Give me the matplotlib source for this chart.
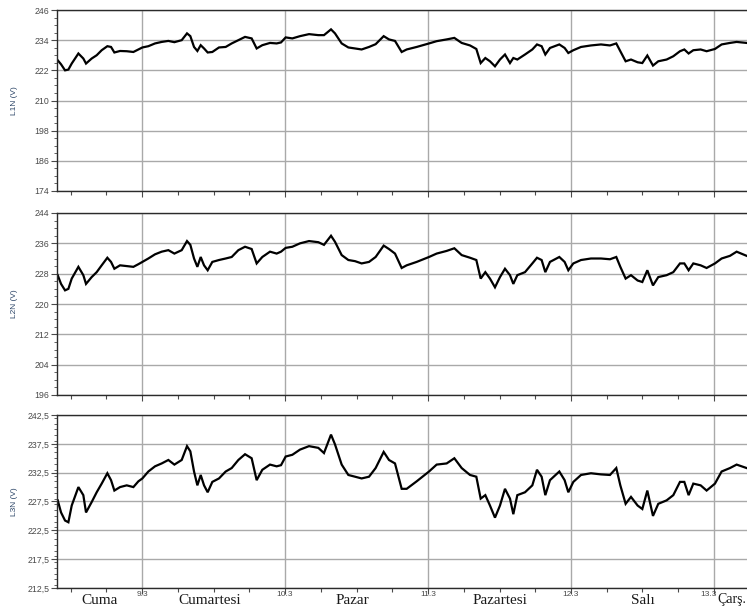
import matplotlib
matplotlib.use("Agg")
import matplotlib.pyplot as plt
import matplotlib.transforms as mtransforms
from matplotlib.ticker import FixedLocator, MultipleLocator, FuncFormatter, NullFormatter

# Sample times, hours counted from 00:00 on 8.3
hours_a = [9.85, 10.41, 11.08, 11.64, 12.20, 13.32, 14.15, 14.60, 15.55, 16.39,
           17.23, 18.18, 18.80, 19.36, 20.31, 21.43, 22.55, 23.39, 24.06, 25.06,
           26.18, 27.30, 28.42, 29.43, 30.66, 31.55, 32.11, 32.73, 33.29, 33.85,
           34.41, 35.02, 35.80, 36.92, 38.04, 39.05, 40.17, 41.29, 42.40, 43.24,
           44.19, 45.48, 46.60, 47.33, 48.11, 49.23, 50.52, 52.03, 53.59, 54.54,
           55.72, 56.39, 57.51, 58.63, 59.75, 60.86, 62.10, 63.21, 64.56, 65.45,
           66.46, 67.58]
hours_b = [68.42, 70.10, 72.17, 73.45, 75.13, 76.42, 77.65, 79.05, 80.11, 80.84,
           81.62, 82.40, 83.24, 84.08, 84.92, 85.76, 86.32, 86.99, 88.28, 89.51,
           90.29, 91.07, 91.69, 92.47, 94.04, 94.93, 95.55, 96.39, 97.68, 99.35,
           101.03, 102.54, 103.60, 104.28, 105.17, 106.07, 107.18, 107.97, 108.81, 109.76,
           110.65, 112.05, 113.17, 114.29, 115.02, 115.74, 116.53, 117.76, 118.76, 120.16,
           121.28, 122.68, 123.80, 125.48]
hours = hours_a + hours_b

# Phase-to-neutral voltages (V)
l1n = [226.0, 224.4, 222.0, 222.3, 224.7, 228.7, 226.7, 224.7, 226.7, 228.0,
       230.0, 231.6, 231.3, 229.1, 229.7, 229.6, 229.3, 230.3, 231.1, 231.6,
       232.7, 233.3, 233.7, 233.2, 234.0, 236.7, 235.6, 231.3, 229.7, 232.0,
       230.7, 229.1, 229.3, 231.1, 231.3, 232.7, 234.0, 235.3, 234.7, 230.7,
       232.0, 232.9, 232.7, 233.1, 235.1, 234.7, 235.6, 236.4, 236.0, 236.0,
       238.3, 236.7, 232.7, 231.1, 230.7, 230.3, 231.3, 232.4, 235.6, 234.3,
       233.7, 229.3,
       230.3, 231.3, 232.7, 233.6, 234.3, 234.9, 232.9, 231.9, 230.5, 224.9,
       226.9, 225.6, 223.6, 226.3, 228.3, 224.9, 226.9, 226.3, 228.3, 230.3,
       232.3, 231.6, 228.3, 230.9, 232.3, 230.9, 228.9, 230.0, 231.3, 231.9,
       232.3, 231.9, 232.7, 229.6, 225.6, 226.3, 225.2, 224.9, 227.9, 223.9,
       225.6, 226.3, 227.6, 229.6, 230.3, 228.7, 230.0, 230.3, 229.6, 230.5,
       232.3, 232.9, 233.3, 232.9]
l2n = [227.6, 225.3, 223.6, 224.0, 226.7, 229.8, 227.6, 225.3, 227.1, 228.4,
       230.2, 232.2, 231.1, 229.3, 230.2, 230.0, 229.8, 230.5, 231.1, 232.0,
       233.1, 233.8, 234.2, 233.3, 234.2, 236.6, 235.6, 232.0, 229.8, 232.4,
       230.2, 228.9, 231.1, 231.6, 232.0, 232.4, 234.2, 235.1, 234.5, 230.7,
       232.4, 233.8, 233.3, 233.8, 234.8, 235.1, 236.0, 236.6, 236.3, 235.6,
       238.0, 236.4, 232.9, 231.6, 231.3, 230.7, 231.1, 232.4, 235.4, 234.5,
       233.3, 229.5,
       230.2, 231.1, 232.4, 233.3, 234.0, 234.7, 232.9, 232.2, 231.6, 226.7,
       228.4, 226.7, 224.4, 227.1, 229.3, 227.6, 225.3, 227.6, 228.4, 230.7,
       232.2, 231.6, 228.4, 231.1, 232.4, 231.1, 228.9, 230.7, 231.6, 232.0,
       232.0, 231.8, 232.4, 229.8, 226.7, 227.6, 226.2, 225.8, 228.9, 224.9,
       227.1, 227.6, 228.4, 230.7, 230.7, 228.9, 230.7, 230.2, 229.5, 230.7,
       232.0, 232.7, 233.8, 232.7]
l3n = [227.7, 225.6, 224.2, 223.9, 226.8, 230.0, 228.6, 225.6, 227.4, 229.1,
       230.6, 232.4, 231.2, 229.4, 230.0, 230.3, 230.0, 231.0, 231.5, 232.7,
       233.6, 234.1, 234.7, 233.9, 234.7, 237.1, 236.2, 232.7, 230.3, 232.1,
       230.3, 229.1, 230.9, 231.5, 232.7, 233.3, 234.7, 235.7, 235.0, 231.2,
       233.0, 233.9, 233.6, 233.8, 235.3, 235.6, 236.5, 237.1, 236.8, 235.9,
       239.1, 237.4, 233.9, 232.1, 231.8, 231.5, 231.8, 233.3, 236.1, 234.7,
       234.1, 229.7,
       229.7, 231.0, 232.7, 233.9, 234.1, 235.0, 233.3, 232.1, 231.8, 228.0,
       228.6, 226.8, 224.7, 226.8, 229.7, 228.0, 225.3, 228.6, 229.1, 230.3,
       233.0, 231.8, 228.6, 231.2, 232.7, 231.2, 229.1, 230.9, 232.1, 232.4,
       232.2, 232.1, 233.3, 230.3, 227.1, 228.3, 226.8, 226.2, 229.4, 225.0,
       227.1, 227.7, 228.6, 230.9, 230.9, 228.6, 230.6, 230.3, 229.4, 230.6,
       232.7, 233.3, 233.9, 233.3]

series_names = ["L1N (V)", "L2N (V)", "L3N (V)"]
series_values = [l1n, l2n, l3n]
y_ticks = [
    [174, 186, 198, 210, 222, 234, 246],
    [196, 204, 212, 220, 228, 236, 244],
    [212.5, 217.5, 222.5, 227.5, 232.5, 237.5, 242.5],
]
date_labels = ["9.3", "10.3", "11.3", "12.3", "13.3"]
day_names = ["Cuma", "Cumartesi", "Pazar", "Pazartesi", "Salı", "Çarş."]

W, H = 747, 610
fig = plt.figure(figsize=(W / 100, H / 100), dpi=100)
fig.patch.set_facecolor("white")

# panel extents in pixels: (top, bottom)
panel_px = [(10, 191), (213, 395), (415, 588)]
left_px = 57
x_min, x_max = 9.73, 125.54

grid_col = "#a9a9a9"
spine_col = "#2b2b2b"
tick_col = "#4a4a4a"
ylabel_col = "#2d4668"

axes = []
for i, ((top, bot), name, vals, yt) in enumerate(zip(panel_px, series_names, series_values, y_ticks)):
    ax = fig.add_axes([left_px / W, 1 - bot / H, 1 - left_px / W, (bot - top) / H])
    ax.plot(hours, vals, color="black", lw=1.6, solid_joinstyle="miter")
    ax.set_xlim(x_min, x_max)
    ax.set_ylim(yt[0], yt[-1])
    ax.yaxis.set_major_locator(FixedLocator(yt))
    step = yt[1] - yt[0]
    ax.yaxis.set_minor_locator(MultipleLocator(step / 4 if i < 2 else step / 5))
    if i == 2:
        ax.yaxis.set_major_formatter(FuncFormatter(lambda v, p: f"{v:.1f}".replace(".", ",")))
    else:
        ax.yaxis.set_major_formatter(FuncFormatter(lambda v, p: f"{v:.0f}"))
    ax.xaxis.set_major_locator(FixedLocator([24, 48, 72, 96, 120]))
    ax.xaxis.set_minor_locator(MultipleLocator(6))
    ax.xaxis.set_major_formatter(NullFormatter())
    ax.grid(True, which="major", color=grid_col, lw=1.0)
    ax.tick_params(axis="y", which="major", length=4, width=0.8, color=tick_col,
                   labelsize=6.3, labelcolor=tick_col, pad=1.5)
    ax.tick_params(axis="y", which="minor", length=2, width=0.6, color=tick_col)
    ax.tick_params(axis="x", which="major", length=4, width=0.8, color=tick_col)
    ax.tick_params(axis="x", which="minor", length=3, width=0.8, color=tick_col)
    for s in ("left", "top", "bottom"):
        ax.spines[s].set_color(spine_col)
        ax.spines[s].set_linewidth(1.0)
    ax.spines["right"].set_visible(False)
    for lab in ax.get_yticklabels():
        lab.set_fontfamily("Liberation Sans")
    fig.text(15 / W, 1 - (top + bot) / 2 / H, name, rotation=90, ha="center", va="center",
             fontsize=6, color=ylabel_col, family="Liberation Sans")
    axes.append(ax)

ax3 = axes[-1]
trans = mtransforms.blended_transform_factory(ax3.transData, fig.transFigure)
date_offsets = [0, 0, 0, 0, -1.0]   # last date label nudged left of its grid line
for d, off, lab in zip([24, 48, 72, 96, 120], date_offsets, date_labels):
    fig.text(d + off, 1 - 594 / H, lab, transform=trans, ha="center", va="center",
             fontsize=6, color=tick_col, family="Liberation Sans")

day_pos = [(x_min + 24) / 2, 35.3, 59.3, 84, 108]
for pos, name in zip(day_pos, day_names[:-1]):
    fig.text(pos, 1 - 600 / H, name, transform=trans, ha="center", va="center",
             fontsize=11, color="#1a1a1a", family="Liberation Serif")
# the last, partly visible day is abbreviated and pinned to the right edge
fig.text(1 - 1 / W, 1 - 600 / H, day_names[-1], ha="right", va="center",
         fontsize=10, color="#1a1a1a", family="Liberation Serif")

fig.savefig("out.png", dpi=100)
